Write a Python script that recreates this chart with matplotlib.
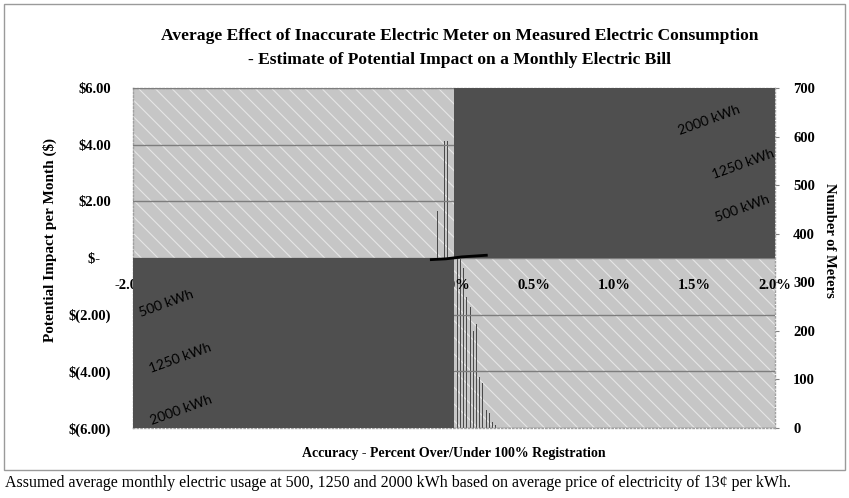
import matplotlib.pyplot as plt
from matplotlib.patches import Rectangle
import numpy as np

# accuracy axis (percent) and impact axis ($)
x_lim = [-2.0, 2.0]
y_lim = [-6.0, 6.0]
x_ticks = [-2.0, -1.5, -1.0, -0.5, 0.0, 0.5, 1.0, 1.5, 2.0]
y_ticks = [-6, -4, -2, 0, 2, 4, 6]
y_labels = ['$(6.00)', '$(4.00)', '$(2.00)', '$-   ', '$2.00', '$4.00', '$6.00']
meter_ticks = [0, 100, 200, 300, 400, 500, 600, 700]

# impact lines at the ends of the accuracy range (13 cents per kWh)
usage = ['500 kWh', '1250 kWh', '2000 kWh']
line_acc = [-2.0, 2.0]
impact = {
    '500 kWh': [-1.30, 1.30],
    '1250 kWh': [-3.25, 3.25],
    '2000 kWh': [-5.20, 5.20],
}
# label offsets (pixels) for the end labels: left end, right end
lab_off_left = [(33, -9), (47, -8), (48, -5)]
lab_off_right = [(-33, 13), (-32, 2), (-66, -9)]

# small visible crossing near zero
cross_x = [-0.15, -0.05, 0.05, 0.21]
cross_y = [-0.06, -0.03, 0.04, 0.10]

# histogram of meter accuracy (number of meters)
bin_pos = [-0.12, -0.10, -0.08, -0.06, -0.04, -0.02, 0.00, 0.02, 0.04, 0.06,
           0.08, 0.10, 0.12, 0.14, 0.16, 0.18, 0.20, 0.22, 0.24, 0.26]
meter_counts = [150, 447, 300, 590, 590, 340, 700, 650, 520, 330,
                270, 250, 200, 215, 105, 92, 38, 31, 12, 6]

LIGHT = '#c6c6c6'
DARK = '#4f4f4f'
serif = 'Liberation Serif'

plt.rcParams['hatch.linewidth'] = 0.8
fig = plt.figure(figsize=(8.49, 4.98), dpi=100)
W, H = 849, 498
ax = fig.add_axes([133 / W, 1 - 428 / H, (775 - 133) / W, (428 - 88) / H])
ax2 = ax.twinx()
ax.set_zorder(ax2.get_zorder() + 1)
ax.patch.set_visible(False)

ax.set_xlim(x_lim)
ax.set_ylim(y_lim)
ax2.set_ylim(meter_ticks[0], meter_ticks[-1])

# light quadrants (under the histogram)
for x0, y0 in [(x_lim[0], 0), (0, y_lim[0])]:
    ax2.add_patch(Rectangle((x0, y0), x_lim[1], y_lim[1], transform=ax.transData,
                            facecolor=LIGHT, edgecolor='#e6e6e6', hatch='\\\\',
                            lw=0, zorder=0))

ax2.bar(bin_pos, meter_counts, width=0.006, color='#4a4a4a', lw=0, zorder=1)

# dark quadrants cover grid, tick labels and the impact lines
ax.set_axisbelow(True)
for x0, y0 in [(0, 0), (x_lim[0], y_lim[0])]:
    ax.add_patch(Rectangle((x0, y0), x_lim[1], y_lim[1], facecolor=DARK,
                           lw=0, zorder=1))

for i, name in enumerate(usage):
    ax.plot(line_acc, impact[name], color='black', lw=1, zorder=0.9)
    for j, off in enumerate([lab_off_left[i], lab_off_right[i]]):
        t = ax.annotate(name, (line_acc[j], impact[name][j]), xytext=off,
                        textcoords='offset pixels', ha='center', va='center',
                        rotation=20, fontsize=10, family='Lato', color='black',
                        zorder=4, annotation_clip=False)
        t.set_clip_on(True)

ax.plot(cross_x, cross_y, color='black', lw=2, zorder=3, solid_capstyle='butt')

# grid and ticks
ax.set_yticks(y_ticks)
ax.set_yticklabels(y_labels)
ax.yaxis.grid(True, color='#7d7d7d', lw=1)
ax.set_xticks(x_ticks)
ax.set_xticklabels(['%.1f%%' % v for v in x_ticks])
ax.spines['bottom'].set_position(('data', 0))
for s in ax.spines.values():
    s.set_visible(False)
ax.tick_params(axis='both', length=0)
ax.tick_params(axis='x', pad=15)
ax.tick_params(axis='y', pad=16)
for lab in ax.get_xticklabels() + ax.get_yticklabels():
    lab.set_family(serif)
    lab.set_fontweight('bold')
    lab.set_fontsize(10.5)

ax2.set_yticks(meter_ticks)
ax2.tick_params(axis='y', length=3, color='#808080', pad=10)
for lab in ax2.get_yticklabels():
    lab.set_family(serif)
    lab.set_fontweight('bold')
    lab.set_fontsize(10.5)
for s in ax2.spines.values():
    s.set_color('#a0a0a0')
    s.set_linestyle(':')
    s.set_linewidth(1)

# texts
fig.text(460 / W, 1 - 36 / H,
         'Average Effect of Inaccurate Electric Meter on Measured Electric Consumption',
         ha='center', va='center', family=serif, fontweight='bold', fontsize=12.6)
fig.text(460 / W, 1 - 60 / H,
         '- Estimate of Potential Impact on a Monthly Electric Bill',
         ha='center', va='center', family=serif, fontweight='bold', fontsize=12.6)
fig.text(50 / W, 1 - 240 / H, 'Potential Impact per Month ($)', rotation=90,
         ha='center', va='center', family=serif, fontweight='bold', fontsize=11)
fig.text(829 / W, 1 - 240 / H, 'Number of Meters', rotation=-90,
         ha='center', va='center', family=serif, fontweight='bold', fontsize=10.5)
fig.text(454 / W, 1 - 453 / H, 'Accuracy - Percent Over/Under 100% Registration',
         ha='center', va='center', family=serif, fontweight='bold', fontsize=10)
fig.text(5 / W, 1 - 483 / H,
         'Assumed average monthly electric usage at 500, 1250 and 2000 kWh based on '
         'average price of electricity of 13\u00a2 per kWh.',
         ha='left', va='center', family=serif, fontsize=11.5)

fig.patches.append(Rectangle((4 / W, 1 - 470 / H), 841 / W, 466 / H,
                             transform=fig.transFigure, fill=False,
                             edgecolor='#9a9a9a', lw=1))

fig.savefig('out.png', dpi=100)
